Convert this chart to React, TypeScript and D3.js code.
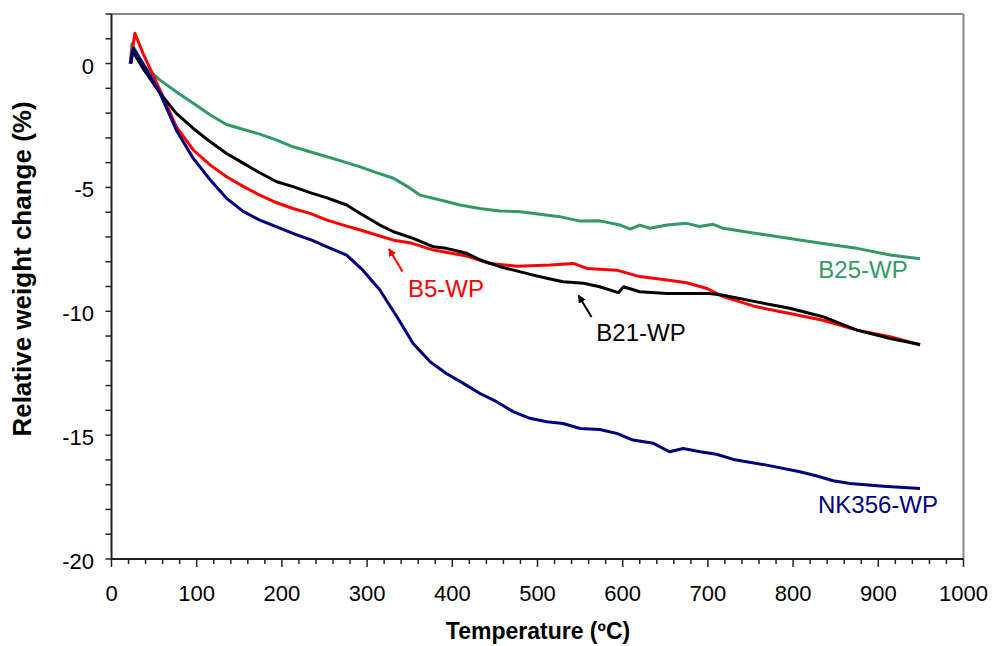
import React from 'react';
import * as d3 from 'd3';

// [temperature ºC, relative weight change %]
const b25: [number, number][] = [
  [22, 0], [24, 0.8], [37, -0.06], [57, -0.67], [76, -1.14], [96, -1.6], [116, -2.08],
  [135, -2.46], [155, -2.66], [174, -2.85], [194, -3.09], [213, -3.36], [233, -3.56],
  [253, -3.76], [272, -3.96], [292, -4.17], [311, -4.4], [331, -4.63], [350, -5.02],
  [362, -5.31], [386, -5.51], [409, -5.71], [432, -5.85], [456, -5.95], [480, -5.98],
  [503, -6.08], [526, -6.18], [550, -6.36], [573, -6.35], [597, -6.52], [609, -6.68],
  [620, -6.52], [632, -6.65], [652, -6.52], [675, -6.45], [690, -6.58], [706, -6.49],
  [718, -6.65], [757, -6.86], [796, -7.06], [835, -7.26], [875, -7.46], [914, -7.73],
  [949, -7.88],
];

const b21: [number, number][] = [
  [23, 0], [25, 0.5], [37, -0.2], [57, -1.2], [76, -2.01], [96, -2.62], [116, -3.16],
  [135, -3.63], [155, -4.03], [174, -4.41], [194, -4.77], [213, -4.97], [233, -5.21],
  [253, -5.42], [276, -5.71], [292, -6.05], [315, -6.52], [331, -6.79], [354, -7.06],
  [378, -7.4], [393, -7.46], [417, -7.66], [433, -7.93], [456, -8.2], [472, -8.34],
  [495, -8.54], [511, -8.67], [530, -8.81], [554, -8.87], [573, -9.01], [595, -9.25],
  [601, -9.01], [620, -9.21], [652, -9.28], [679, -9.28], [702, -9.28], [718, -9.35],
  [757, -9.62], [796, -9.88], [835, -10.22], [875, -10.76], [914, -11.1], [949, -11.34],
];

const b5: [number, number][] = [
  [22, 0], [27.5, 1.22], [37, 0.41], [57, -1.07], [76, -2.55], [96, -3.49], [116, -4.1],
  [135, -4.57], [155, -4.97], [174, -5.31], [194, -5.62], [213, -5.85], [233, -6.05],
  [253, -6.32], [272, -6.52], [292, -6.72], [311, -6.92], [331, -7.13], [350, -7.23],
  [378, -7.53], [417, -7.77], [444, -8.07], [476, -8.18], [515, -8.13], [542, -8.07],
  [558, -8.27], [593, -8.34], [620, -8.6], [652, -8.74], [675, -8.85], [699, -9.08],
  [718, -9.41], [757, -9.82], [796, -10.09], [835, -10.36], [875, -10.76], [914, -11.03],
  [949, -11.36],
];

const nk356: [number, number][] = [
  [22, 0], [25.5, 0.61], [37, 0], [57, -1.2], [76, -2.68], [96, -3.83], [116, -4.7],
  [135, -5.44], [155, -5.98], [174, -6.32], [194, -6.59], [213, -6.86], [235, -7.13],
  [253, -7.4], [276, -7.73], [295, -8.34], [315, -9.14], [335, -10.22], [354, -11.3],
  [374, -12.04], [393, -12.51], [413, -12.91], [432, -13.31], [452, -13.65], [472, -14.06],
  [491, -14.32], [511, -14.46], [530, -14.53], [550, -14.73], [573, -14.77], [593, -14.93],
  [612, -15.2], [636, -15.33], [655, -15.67], [671, -15.54], [691, -15.67], [710, -15.77],
  [730, -15.98], [769, -16.21], [808, -16.48], [828, -16.65], [847, -16.84], [867, -16.95],
  [906, -17.06], [949, -17.15],
];

const xMajor = [0, 100, 200, 300, 400, 500, 600, 700, 800, 900, 1000];
const yMajor = [0, -5, -10, -15, -20];

const W = 992;
const H = 646;
const FONT = 'Liberation Sans, Arial, sans-serif';

export default function App() {
  const x = d3.scaleLinear().domain([0, 1000]).range([111.5, 963.5]);
  const y = d3.scaleLinear().domain([-20, 2]).range([559, 14]);
  const line = d3.line<[number, number]>().x(d => x(d[0])).y(d => y(d[1]));

  const xMinor = d3.range(0, 1001, 20);
  const yMinor = d3.range(-20, 3, 1);

  const series = [
    { data: b25, color: '#339966' },
    { data: b5, color: '#ff0000' },
    { data: b21, color: '#000000' },
    { data: nk356, color: '#000080' },
  ];

  return (
    <svg width={W} height={H} style={{ position: 'absolute', left: 0, top: 0, background: '#fff' }}>
      <defs>
        <marker id="ahRed" viewBox="0 0 10 10" refX="9" refY="5" markerWidth="4" markerHeight="4" orient="auto">
          <path d="M0,0 L10,5 L0,10 z" fill="#ff0000" />
        </marker>
        <marker id="ahBlack" viewBox="0 0 10 10" refX="9" refY="5" markerWidth="4" markerHeight="4" orient="auto">
          <path d="M0,0 L10,5 L0,10 z" fill="#000" />
        </marker>
      </defs>

      {/* frame */}
      <line x1={x(0)} x2={x(1000)} y1={y(2)} y2={y(2)} stroke="#888" strokeWidth={2} />
      <line x1={x(1000)} x2={x(1000)} y1={y(2)} y2={y(-20)} stroke="#888" strokeWidth={2} />

      {series.map((s, i) => (
        <path key={i} d={line(s.data) || ''} fill="none" stroke={s.color} strokeWidth={3} strokeLinejoin="round" />
      ))}

      {/* axes */}
      <line x1={x(0)} x2={x(0)} y1={y(2)} y2={y(-20)} stroke="#222" strokeWidth={2} />
      <line x1={x(0)} x2={x(1000)} y1={y(-20)} y2={y(-20)} stroke="#222" strokeWidth={2} />
      {yMinor.map(v => (
        <line key={v} x1={x(0) - 6} x2={x(0)} y1={y(v)} y2={y(v)} stroke="#222" strokeWidth={1.5} />
      ))}
      {xMinor.map(t => (
        <line key={t} x1={x(t)} x2={x(t)} y1={y(-20)} y2={y(-20) + (t % 100 === 0 ? 8 : 5)} stroke="#222" strokeWidth={1.5} />
      ))}
      {yMajor.map(v => (
        <text key={v} x={94} y={y(v) + 10} textAnchor="end" fontFamily={FONT} fontSize={22} fill="#000">{v}</text>
      ))}
      {xMajor.map(t => (
        <text key={t} x={x(t)} y={601} textAnchor="middle" fontFamily={FONT} fontSize={22} fill="#000">{t}</text>
      ))}

      {/* axis titles */}
      <text transform="translate(31,269) rotate(-90)" textAnchor="middle" fontFamily={FONT} fontSize={26} fontWeight="bold">Relative weight change (%)</text>
      <text x={538} y={639} textAnchor="middle" fontFamily={FONT} fontSize={23} fontWeight="bold">Temperature (ºC)</text>

      {/* series labels */}
      <text x={863} y={278} textAnchor="middle" fontFamily={FONT} fontSize={24} fill="#339966">B25-WP</text>
      <text x={446} y={297} textAnchor="middle" fontFamily={FONT} fontSize={24} fill="#ff0000">B5-WP</text>
      <text x={641} y={341} textAnchor="middle" fontFamily={FONT} fontSize={24} fill="#000">B21-WP</text>
      <text x={878} y={513} textAnchor="middle" fontFamily={FONT} fontSize={24} fill="#000080">NK356-WP</text>

      <line x1={402.5} y1={271.5} x2={389} y2={249} stroke="#ff0000" strokeWidth={2} markerEnd="url(#ahRed)" />
      <line x1={591.5} y1={317} x2={578.5} y2={295.5} stroke="#000" strokeWidth={2} markerEnd="url(#ahBlack)" />
    </svg>
  );
}
